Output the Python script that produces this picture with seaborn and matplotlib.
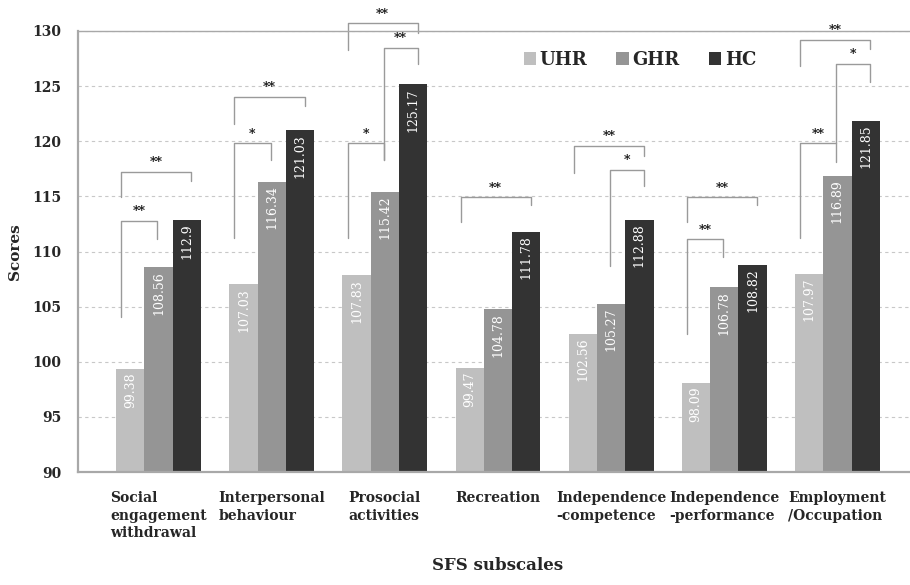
import pandas as pd
import numpy as np
import seaborn as sns
from matplotlib import pyplot as plt

# Data
subscales = ['Social\nengagement\nwithdrawal', 'Interpersonal\nbehaviour', 'Prosocial\nactivities',
             'Recreation', 'Independence\n-competence', 'Independence\n-performance',
             'Employment\n/Occupation']
groups = ['UHR', 'GHR', 'HC']
uhr = [99.38, 107.03, 107.83, 99.47, 102.56, 98.09, 107.97]
ghr = [108.56, 116.34, 115.42, 104.78, 105.27, 106.78, 116.89]
hc = [112.9, 121.03, 125.17, 111.78, 112.88, 108.82, 121.85]
colors = ['#bfbfbf', '#959595', '#333333']

# Significance brackets: (subscale, group a, group b, label, top, left leg end, right leg end)
brackets = [
    (0, 0, 1, '**', 112.8, 104.1, 111.1),
    (0, 0, 2, '**', 117.2, 114.9, 116.4),
    (1, 0, 1, '*', 119.8, 111.2, 118.3),
    (1, 0, 2, '**', 124.0, 121.6, 123.2),
    (2, 0, 1, '*', 119.8, 111.2, 118.3),
    (2, 1, 2, '**', 128.5, 118.3, 127.0),
    (2, 0, 2, '**', 130.7, 128.3, 129.8),
    (3, 0, 2, '**', 114.9, 112.7, 114.2),
    (4, 0, 2, '**', 119.6, 117.1, 118.7),
    (4, 1, 2, '*', 117.4, 108.7, 115.9),
    (5, 0, 2, '**', 114.9, 112.7, 114.2),
    (5, 0, 1, '**', 111.1, 102.5, 109.5),
    (6, 0, 1, '**', 119.8, 111.2, 118.1),
    (6, 1, 2, '*', 127.0, 119.8, 125.4),
    (6, 0, 2, '**', 129.2, 126.8, 128.4),
]
leg_offsets = [-0.33, -0.01, 0.29]

df = pd.DataFrame({
    'subscale': subscales * 3,
    'group': [g for g in groups for _ in subscales],
    'score': uhr + ghr + hc,
})

sns.set_style('white')
plt.rcParams['font.family'] = ['DejaVu Serif']

fig = plt.figure(figsize=(9.1, 5.85), dpi=100)
ax = fig.add_axes([78 / 910, 113 / 585, 840 / 910, 441 / 585])

sns.barplot(data=df, x='subscale', y='score', hue='group', palette=colors,
            width=0.75, gap=0, saturation=1, linewidth=0, ax=ax, errorbar=None)

ax.set_ylim(90, 130)
ax.set_yticks(np.arange(90, 131, 5))
ax.yaxis.grid(True, linestyle=(0, (3, 3)), color='#c8c8c8', linewidth=0.8)
ax.set_axisbelow(True)

for side in ['left', 'bottom', 'top', 'right']:
    ax.spines[side].set_color('#a8a8a8')
ax.spines['left'].set_linewidth(1.6)
ax.spines['bottom'].set_linewidth(1.6)
ax.spines['top'].set_linewidth(1.0)

ax.tick_params(axis='y', length=0, labelsize=10, pad=12)
ax.tick_params(axis='x', length=0, labelsize=10, pad=14)
for t in ax.get_yticklabels() + ax.get_xticklabels():
    t.set_fontweight('bold')
for t in ax.get_xticklabels():
    t.set_multialignment('left')
    t.set_verticalalignment('top')
    t.set_linespacing(1.3)

# small upward ticks between categories
ax.set_xticks(np.arange(0.5, 6.5, 1), minor=True)
ax.tick_params(axis='x', which='minor', direction='in', length=5, color='#a8a8a8', width=1)

# values written inside the bars
for cont, vals in zip(ax.containers, [uhr, ghr, hc]):
    for bar, v in zip(cont, vals):
        ax.text(bar.get_x() + bar.get_width() / 2, v - 0.35, f'{v:g}', rotation=90,
                ha='center', va='top', color='white', fontsize=9)

# significance brackets
for cat, a, b, lab, top, yl, yr in brackets:
    x1 = cat + leg_offsets[a]
    x2 = cat + leg_offsets[b]
    ax.plot([x1, x1, x2, x2], [yl, top, top, yr], color='#9a9a9a', linewidth=1, clip_on=False)
    ax.text((x1 + x2) / 2, top + 0.25, lab, ha='center', va='bottom', fontsize=9,
            fontweight='bold', color='#111111', clip_on=False)

ax.set_xlabel('SFS subscales', fontsize=12, fontweight='bold', labelpad=12)
ax.set_ylabel('Scores', fontsize=11, fontweight='bold', labelpad=7)

ax.legend(loc='center', bbox_to_anchor=(0.669, 0.934), ncol=3, frameon=False,
          prop={'size': 13, 'weight': 'bold'}, handlelength=0.7, handleheight=0.7,
          handletextpad=0.2, columnspacing=1.6)

fig.savefig('out.png', dpi=100, facecolor='white')
